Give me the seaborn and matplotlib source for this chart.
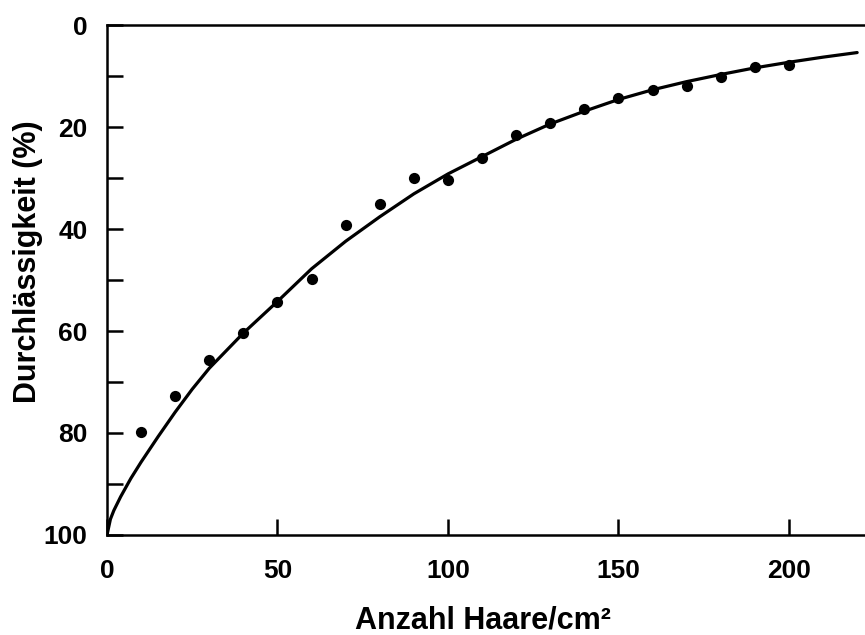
import numpy as np
import pandas as pd
import seaborn as sns
import matplotlib.pyplot as plt

# Messpunkte
haare = [10, 20, 30, 40, 50, 60, 70, 80, 90, 100,
         110, 120, 130, 140, 150, 160, 170, 180, 190, 200]
durchl = [79.9, 72.7, 65.7, 60.3, 54.4, 49.8, 39.2, 35.0, 30.0, 30.4,
          26.1, 21.6, 19.3, 16.5, 14.4, 12.7, 11.9, 10.1, 8.2, 7.8]

# Ausgleichskurve
kurve_x = [0, 1, 2, 4, 7, 10, 15, 20, 25, 30, 40, 50, 60, 70, 80, 90, 100,
           110, 120, 130, 140, 150, 160, 170, 180, 190, 200, 210, 220]
kurve_y = [100, 96.9, 95.2, 92.5, 88.9, 85.7, 80.7, 75.9, 71.4, 67.3, 60.4, 54.2, 47.8,
           42.4, 37.6, 33.1, 29.2, 25.8, 22.4, 19.4, 16.9, 14.6, 12.7,
           11.1, 9.7, 8.4, 7.3, 6.3, 5.4]

pkt = pd.DataFrame({'x': haare, 'y': durchl})
kur = pd.DataFrame({'x': kurve_x, 'y': kurve_y})

sns.set_style('ticks')
plt.rcParams['font.family'] = ['Liberation Sans', 'DejaVu Sans']
plt.rcParams['font.weight'] = 'bold'
plt.rcParams['text.color'] = 'black'
plt.rcParams['axes.labelcolor'] = 'black'
plt.rcParams['xtick.color'] = 'black'
plt.rcParams['ytick.color'] = 'black'

fig = plt.figure(figsize=(8.65, 6.35), dpi=100)
ax = fig.add_axes([0.1237, 0.1575, 0.8763, 0.8031])

sns.lineplot(data=kur, x='x', y='y', ax=ax, color='black', linewidth=2.3,
             estimator=None, sort=False)
sns.scatterplot(data=pkt, x='x', y='y', ax=ax, color='black', s=65,
                edgecolor='black', linewidth=0, zorder=3)

ax.set_xlim(0, 222.3)
ax.set_ylim(100, 0)

ax.set_xticks([0, 50, 100, 150, 200])
ax.set_yticks([0, 20, 40, 60, 80, 100])
ax.set_yticks([10, 30, 50, 70, 90], minor=True)
ax.tick_params(axis='both', which='both', direction='in', length=11.5, width=1.8,
               labelsize=19, color='black', labelcolor='black')
ax.tick_params(axis='x', pad=17)
ax.tick_params(axis='y', pad=14)
for lab in ax.get_xticklabels() + ax.get_yticklabels():
    lab.set_fontweight('bold')

for s in ['left', 'top', 'bottom']:
    ax.spines[s].set_linewidth(1.8)
    ax.spines[s].set_color('black')
ax.spines['right'].set_visible(False)

ax.set_xlabel('Anzahl Haare/cm²', fontsize=22, fontweight='bold')
ax.set_ylabel('Durchlässigkeit (%)', fontsize=22, fontweight='bold')
ax.xaxis.set_label_coords(0.496, -0.139)
ax.yaxis.set_label_coords(-0.084, 0.535)

fig.savefig('out.png', dpi=100)
